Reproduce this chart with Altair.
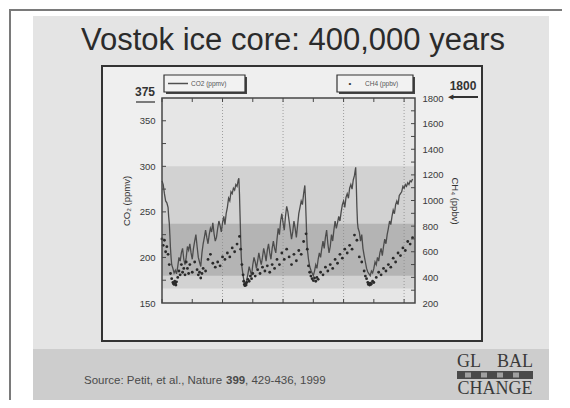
import altair as alt
import pandas as pd

# ---------------- data ----------------
co2_age_kyr = [0, 2, 4, 6, 8, 10, 11, 12, 13, 14, 15, 16, 18, 20, 22, 24, 26, 28, 30, 32,
               34, 36, 38, 40, 42, 44, 46, 48, 50, 52, 54, 56, 58, 60, 62, 64, 66, 68, 70, 72,
               74, 76, 78, 80, 82, 84, 86, 88, 90, 92, 94, 96, 98, 100, 102, 104, 106, 108, 110, 112,
               114, 116, 118, 120, 122, 124, 126, 127, 128, 129, 130, 131, 132, 134, 136, 138, 140, 142, 144, 146,
               148, 150, 152, 154, 156, 158, 160, 162, 164, 166, 168, 170, 172, 174, 176, 178, 180, 182, 184, 186,
               188, 190, 192, 194, 196, 198, 200, 202, 204, 206, 208, 210, 212, 214, 216, 218, 220, 222, 224, 226,
               228, 230, 232, 234, 236, 237, 238, 239, 240, 242, 244, 246, 248, 250, 252, 254, 256, 258, 260, 262,
               264, 266, 268, 270, 272, 274, 276, 278, 280, 282, 284, 286, 288, 290, 292, 294, 296, 298, 300, 302,
               304, 306, 308, 310, 312, 314, 316, 318, 320, 321, 322, 323, 324, 326, 328, 330, 332, 334, 336, 338,
               340, 342, 344, 346, 348, 350, 352, 354, 356, 358, 360, 362, 364, 366, 368, 370, 372, 374, 376, 378,
               380, 382, 384, 386, 388, 390, 392, 394, 396, 398, 400, 402, 404, 406, 408, 410, 412, 414]
co2_ppmv = [284, 280, 270, 262, 260, 255, 245, 238, 225, 210, 200, 192, 188, 183, 186, 182, 190, 200, 196, 205,
            210, 198, 192, 200, 212, 208, 215, 205, 198, 210, 218, 225, 212, 200, 195, 190, 205, 215, 222, 230,
            222, 215, 225, 232, 228, 238, 226, 218, 222, 232, 240, 235, 228, 238, 245, 236, 248, 255, 265, 262,
            272, 270, 276, 274, 280, 278, 285, 287, 270, 245, 220, 200, 190, 180, 172, 170, 175, 182, 190, 185,
            180, 192, 200, 195, 188, 196, 205, 198, 192, 200, 210, 204, 196, 208, 215, 205, 198, 210, 218, 210,
            205, 220, 232, 225, 240, 248, 238, 230, 245, 256, 250, 240, 230, 220, 228, 240, 232, 222, 235, 248,
            255, 262, 258, 270, 279, 265, 245, 225, 210, 198, 190, 186, 183, 180, 185, 192, 188, 198, 205, 200,
            210, 218, 210, 222, 230, 215, 205, 212, 225, 218, 230, 240, 232, 238, 245, 240, 250, 258, 262, 255,
            266, 270, 265, 276, 280, 275, 285, 290, 299, 280, 255, 238, 232, 228, 218, 225, 210, 202, 195, 188,
            184, 182, 180, 185, 183, 188, 195, 192, 200, 196, 205, 210, 202, 212, 220, 215, 225, 232, 240, 236,
            245, 252, 248, 258, 262, 258, 268, 270, 272, 278, 276, 280, 278, 282, 280, 284, 283, 286]

ch4_age_kyr = [0, 2, 4, 6, 8, 10, 12, 14, 16, 18, 19, 20, 21, 22, 23, 24, 26, 28, 30, 32,
               34, 36, 38, 40, 42, 44, 46, 50, 54, 58, 60, 62, 64, 66, 68, 72, 76, 80, 84, 88,
               92, 96, 100, 104, 108, 112, 116, 120, 124, 128, 130, 132, 134, 135, 136, 137, 138, 139, 140, 142,
               144, 146, 148, 150, 154, 158, 162, 166, 170, 174, 178, 182, 186, 190, 194, 198, 202, 206, 210, 214,
               218, 222, 226, 230, 234, 238, 240, 242, 244, 246, 248, 250, 252, 254, 256, 258, 262, 266, 270, 274,
               278, 282, 286, 290, 294, 298, 302, 306, 310, 314, 318, 322, 326, 330, 334, 336, 338, 340, 341, 342,
               343, 344, 345, 346, 348, 350, 354, 358, 362, 366, 370, 374, 378, 382, 386, 390, 394, 398, 402, 406,
               410, 414]
ch4_ppbv = [700, 650, 690, 600, 640, 580, 500, 430, 390, 360, 350, 345, 370, 355, 340, 365, 400, 450, 420, 500,
            440, 470, 420, 520, 470, 430, 500, 440, 520, 460, 420, 440, 395, 430, 470, 450, 540, 580, 510, 480,
            520, 490, 560, 540, 590, 560, 630, 600, 660, 720, 620, 500, 420, 370, 345, 335, 350, 340, 360, 385,
            370, 410, 390, 430, 410, 460, 430, 480, 450, 490, 440, 500, 470, 540, 500, 590, 540, 620, 560, 500,
            580, 530, 610, 580, 680, 740, 620, 490, 440, 410, 390, 375, 395, 370, 400, 385, 440, 420, 480, 450,
            500, 470, 540, 510, 580, 550, 620, 590, 650, 620, 730, 690, 560, 520, 450, 410, 390, 360, 345, 350,
            340, 355, 345, 350, 370, 360, 400, 440, 420, 470, 450, 500, 480, 550, 520, 590, 570, 630, 610, 680,
            660, 710]

time_ticks = [0, 100000, 200000, 300000, 400000]
time_minor = [0, 50000, 100000, 150000, 200000, 250000, 300000, 350000, 400000]
co2_ticks = [150, 200, 250, 300, 350]
co2_minor = [175, 200, 225, 250, 275, 300, 325, 350]
ch4_ticks = [200, 400, 600, 800, 1000, 1200, 1400, 1600, 1800]
ch4_minor = [300, 400, 500, 600, 700, 800, 900, 1000, 1100, 1200, 1300, 1400, 1500, 1600, 1700]
band_names = ["light", "dark"]
band_low = [166, 180]
band_high = [300, 237]

title_text = "Vostok ice core: 400,000 years"
source_parts = ["Source: Petit, et al., Nature", "399", ", 429-436, 1999"]

# ---------------- layout (page pixels) ----------------
W, H = 253, 205          # plot area
OX, OY = 162, 98         # page position of the plot's top-left corner
FONT = "Liberation Sans"


def X(px):
    return px - OX


def Y(py):
    return py - OY


one = alt.Data(values=[{"k": 0}])
co2_df = pd.DataFrame({"age": [a * 1000 for a in co2_age_kyr], "co2": co2_ppmv})
ch4_df = pd.DataFrame({"age": [a * 1000 for a in ch4_age_kyr], "ch4": ch4_ppbv})
band_df = pd.DataFrame({"name": band_names, "lo": band_low, "hi": band_high})

xs = alt.Scale(domain=[0, 418000], nice=False, zero=False)
ys_co2 = alt.Scale(domain=[150, 375], nice=False, zero=False)
ys_ch4 = alt.Scale(domain=[200, 1800], nice=False, zero=False)


def rect(x1, y1, x2, y2, **kw):
    return alt.Chart(one).mark_rect(**kw).encode(
        x=alt.value(X(x1)), x2=alt.value(X(x2)), y=alt.value(Y(y1)), y2=alt.value(Y(y2)))


def rule(x1, y1, x2, y2, **kw):
    return alt.Chart(one).mark_rule(**kw).encode(
        x=alt.value(X(x1)), x2=alt.value(X(x2)), y=alt.value(Y(y1)), y2=alt.value(Y(y2)))


def text(px, py, s, **kw):
    kw.setdefault("font", FONT)
    return alt.Chart(one).mark_text(text=s, **kw).encode(x=alt.value(X(px)), y=alt.value(Y(py)))


layers = []
# slide background and border
layers.append(rect(33, 16, 549, 403, fill="#e4e4e4"))
layers.append(rect(33, 349, 549, 401, fill="#cdcdcd"))
layers.append(rule(10, 9, 10, 408, color="#7a7a7a", strokeWidth=2))
layers.append(rule(9, 10, 570, 10, color="#7a7a7a", strokeWidth=2))

# title
layers.append(text(293, 41, title_text, fontSize=31, color="#2b2b2b", align="center", baseline="middle"))

# source line
layers.append(text(84, 381, source_parts[0], fontSize=11.5, color="#4a4a4a", align="left", baseline="middle"))
layers.append(text(226, 381, source_parts[1], fontSize=11.5, color="#4a4a4a", align="left", baseline="middle", fontWeight="bold"))
layers.append(text(245, 381, source_parts[2], fontSize=11.5, color="#4a4a4a", align="left", baseline="middle"))

# logo
layers.append(text(457, 362, "GL", font="Liberation Serif", fontSize=18, color="#3a3a3a", align="left", baseline="middle"))
layers.append(text(533, 362, "BAL", font="Liberation Serif", fontSize=18, color="#3a3a3a", align="right", baseline="middle"))
layers.append(rect(457, 371, 533, 379, fill="#4a4a4a"))
for cx in (468, 484, 500, 516):
    layers.append(rect(cx - 3, 372.5, cx + 3, 377.5, fill="#a0a0a0"))
layers.append(text(495, 389, "CHANGE", font="Liberation Serif", fontSize=18, color="#3a3a3a", align="center", baseline="middle"))

# chart frame
layers.append(rect(102, 66, 482, 341, fill="#efefef", stroke="#333333", strokeWidth=2))

# plot background + bands
layers.append(rect(OX, OY, OX + W, OY + H, fill="#e6e6e6"))
bands = alt.Chart(band_df).mark_rect().encode(
    x=alt.value(0), x2=alt.value(W),
    y=alt.Y("lo:Q", scale=ys_co2, axis=None), y2="hi:Q",
    color=alt.Color("name:N", scale=alt.Scale(domain=["light", "dark"], range=["#d2d2d2", "#b4b4b4"]), legend=None),
    order=alt.Order("lo:Q", sort="ascending"),
)
layers.append(bands)

# vertical dotted grid
grid = alt.Chart(pd.DataFrame({"t": time_ticks[1:]})).mark_rule(color="#8a8a8a", strokeDash=[1, 2], strokeWidth=0.8).encode(
    x=alt.X("t:Q", scale=xs, axis=None), y=alt.value(0), y2=alt.value(H))
layers.append(grid)

axis_common = dict(labelFont=FONT, labelFontSize=9.5, labelColor="#3a3a3a", titleFont=FONT, titleFontSize=9.5,
                   titleFontWeight="normal", titleColor="#333333", domain=False, ticks=False, grid=False, zindex=1)

co2_line = alt.Chart(co2_df).mark_line(color="#4c4c4c", strokeWidth=1.3).encode(
    x=alt.X("age:Q", scale=xs, axis=alt.Axis(values=time_ticks, title="Time (years bp)",
                                               labelExpr="datum.value == 0 ? '0' : format(datum.value / 100000, 'd') + ' 10⁵'",
                                               labelPadding=9, titlePadding=4, **axis_common)),
    y=alt.Y("co2:Q", scale=ys_co2, axis=alt.Axis(values=co2_ticks, title="CO₂ (ppmv)", labelPadding=7,
                                                titlePadding=8, **axis_common)),
    order="age:Q",
)
layers.append(co2_line)

ch4_pts = alt.Chart(ch4_df).mark_point(filled=True, shape="circle", size=8, color="#2a2a2a", opacity=1).encode(
    x=alt.X("age:Q", scale=xs, axis=None),
    y=alt.Y("ch4:Q", scale=ys_ch4, axis=alt.Axis(orient="right", values=ch4_ticks, format="d", title="CH₄ (ppbv)",
                                                labelPadding=7, titlePadding=6, titleAngle=90, **axis_common)),
)
layers.append(ch4_pts)

# plot frame
layers.append(rect(OX, OY, OX + W, OY + H, fill="transparent", stroke="#474747", strokeWidth=1.5))

# inward ticks
tick_style = dict(color="#474747", strokeWidth=1)
layers.append(alt.Chart(pd.DataFrame({"v": co2_minor})).mark_rule(**tick_style).encode(
    y=alt.Y("v:Q", scale=ys_co2, axis=None), x=alt.value(0), x2=alt.value(4)))
layers.append(alt.Chart(pd.DataFrame({"v": ch4_minor})).mark_rule(**tick_style).encode(
    y=alt.Y("v:Q", scale=ys_ch4, axis=None), x=alt.value(W - 4), x2=alt.value(W)))
layers.append(alt.Chart(pd.DataFrame({"v": time_minor})).mark_rule(**tick_style).encode(
    x=alt.X("v:Q", scale=xs, axis=None), y=alt.value(H - 4), y2=alt.value(H)))
layers.append(alt.Chart(pd.DataFrame({"v": time_minor})).mark_rule(**tick_style).encode(
    x=alt.X("v:Q", scale=xs, axis=None), y=alt.value(0), y2=alt.value(4)))

# legend boxes
layers.append(rect(166, 77, 247, 94, fill="#444444"))
layers.append(rect(164, 75, 245, 92, fill="#f2f2f2", stroke="#333333", strokeWidth=1.2))
layers.append(rule(168, 83.5, 188, 83.5, color="#505050", strokeWidth=1.5))
layers.append(text(191, 83.5, "CO2 (ppmv)", fontSize=6.5, color="#555555", align="left", baseline="middle"))
layers.append(rect(339, 77, 415, 94, fill="#444444"))
layers.append(rect(337, 75, 413, 92, fill="#f2f2f2", stroke="#333333", strokeWidth=1.2))
layers.append(text(350, 83.5, "•", fontSize=8, color="#333333", align="center", baseline="middle"))
layers.append(text(365, 83.5, "CH4 (ppbv)", fontSize=6.5, color="#555555", align="left", baseline="middle"))

# bold limit markers
layers.append(text(145, 92, "375", fontSize=12, fontWeight="bold", color="#333333", align="center", baseline="middle"))
layers.append(rule(136, 102, 155, 102, color="#555555", strokeWidth=1.5))
layers.append(text(463, 86, "1800", fontSize=12, fontWeight="bold", color="#333333", align="center", baseline="middle"))
layers.append(rule(452, 97, 478, 97, color="#333333", strokeWidth=2))
layers.append(text(450, 97, "◀", fontSize=7, color="#333333", align="center", baseline="middle"))

chart = alt.layer(*layers).resolve_scale(y="independent", color="independent").properties(
    width=W, height=H,
    autosize=alt.AutoSizeParams(type="none"),
    padding={"left": OX - 8, "top": OY - 8, "right": 570 - 16 - (OX - 8) - W, "bottom": 408 - 16 - (OY - 8) - H},
    background="white",
).configure_view(stroke=None)

chart.save("out.html", embed_options={"renderer": "svg", "actions": False})
